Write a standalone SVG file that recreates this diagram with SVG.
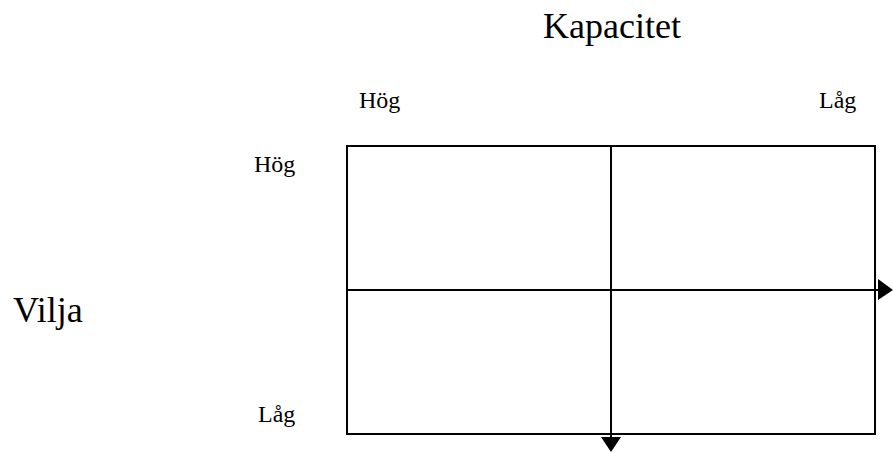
<svg xmlns="http://www.w3.org/2000/svg" width="893" height="452" viewBox="0 0 893 452">
  <style>
    .lbl { font-family: "Liberation Serif", "Times New Roman", serif; fill: #000; }
    .big { font-size: 36px; }
    .small { font-size: 24px; }
    .ln { stroke: #000; stroke-width: 2; fill: none; }
    .head { fill: #000; stroke: none; }
  </style>
  <rect width="893" height="452" fill="#fff"/>

  <!-- axis titles -->
  <g id="title-kapacitet"><text class="lbl big" x="543" y="38">Kapacitet</text></g>
  <g id="title-vilja"><text class="lbl big" x="13" y="322">Vilja</text></g>

  <!-- scale labels -->
  <g id="kap-hog"><text class="lbl small" x="359" y="108">Hög</text></g>
  <g id="kap-lag"><text class="lbl small" x="819" y="108">Låg</text></g>
  <g id="vilja-hog"><text class="lbl small" x="254" y="172">Hög</text></g>
  <g id="vilja-lag"><text class="lbl small" x="258" y="422">Låg</text></g>

  <!-- grid -->
  <g id="grid">
    <rect class="ln" x="347" y="146" width="528" height="288"/>
  </g>

  <!-- axis arrows -->
  <g id="connectors">
    <line class="ln" x1="611" y1="146" x2="611" y2="438"/>
    <polygon class="head" points="601,437 621,437 611,452"/>
    <line class="ln" x1="347" y1="290" x2="879" y2="290"/>
    <polygon class="head" points="878,279 878,300 893,290"/>
  </g>
</svg>
